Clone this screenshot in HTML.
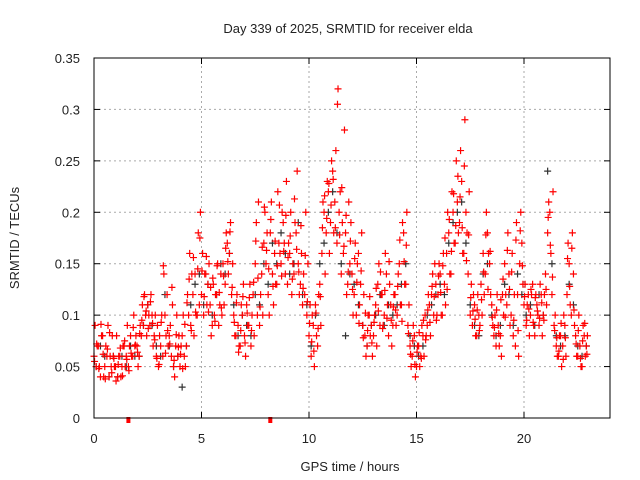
<!DOCTYPE html>
<html><head><meta charset="utf-8"><style>
html,body{margin:0;padding:0;background:#fff;width:640px;height:480px;overflow:hidden}
text{font-family:"Liberation Sans",sans-serif;font-size:13px;fill:#222}
</style></head><body>
<svg id="chart" width="640" height="480" xmlns="http://www.w3.org/2000/svg"></svg>
<script>
const xTicks=[0,5,10,15,20];
const yTicks=[0,0.05,0.1,0.15,0.2,0.25,0.3,0.35];
const yTickLabels=["0","0.05","0.1","0.15","0.2","0.25","0.3","0.35"];
const redA=[.06,.05,.07,.04,.08,.05,.06,.04,.05,.06,.05,.04,.06,.05,.07,.06,.05,.08,.06,.07,.07,.06,.08,.09,.10,.11,.09,.10,.08,.06,.05,.07,.06,.10,.12,.08,.06,.05,.07,.06,.05,.08,.06,.07,.10,.09,.12,.14,.10,.11,.12,.10,.14,.13,.11,.09,.10,.12,.09,.14,.15,.13,.17,.16,.12,.10,.08,.09,.07,.10,.08,.11,.09,.07,.12,.15,.10,.09,.14,.17,.15,.12,.18,.14,.16,.13,.17,.15,.19,.14,.13,.16,.12,.14,.18,.15,.13,.11,.12,.10,.08,.06,.09,.11,.07,.13,.16,.20,.18,.22,.19,.24,.21,.17,.20,.14,.16,.18,.13,.15,.14,.12,.10,.16,.13,.09,.08,.07,.10,.09,.08,.11,.13,.09,.12,.10,.14,.08,.11,.09,.12,.10,.15,.11,.18,.13,.09,.07,.06,.08,.05,.07,.06,.08,.10,.09,.11,.12,.10,.13,.12,.14,.10,.13,.16,.18,.14,.20,.17,.21,.19,.23,.16,.20,.14,.10,.09,.11,.08,.10,.13,.16,.14,.18,.15,.11,.08,.07,.09,.08,.12,.15,.11,.14,.10,.08,.07,.12,.15,.17,.11,.09,.12,.10,.13,.08,.11,.09,.12,.10,.14,.18,.20,.12,.09,.07,.06,.08,.07,.09,.12,.15,.10,.14,.08,.06,.07,.05,.08,.07];
const redB=[.09,.07,.05,.08,.04,.07,.09,.06,.08,.05,.08,.06,.04,.07,.05,.09,.07,.06,.10,.08,.05,.09,.11,.12,.08,.10,.12,.07,.10,.09,.08,.10,.14,.08,.07,.09,.11,.04,.10,.08,.07,.10,.05,.12,.16,.14,.08,.10,.18,.20,.16,.14,.11,.15,.08,.13,.12,.15,.11,.10,.11,.18,.14,.19,.15,.08,.12,.07,.11,.13,.06,.09,.13,.10,.08,.19,.21,.12,.10,.20,.18,.10,.21,.11,.13,.22,.16,.20,.17,.23,.17,.20,.15,.19,.24,.12,.16,.14,.20,.15,.11,.10,.05,.08,.12,.09,.21,.14,.23,.16,.25,.18,.26,.32,.22,.19,.28,.12,.21,.19,.10,.17,.15,.11,.18,.12,.06,.10,.08,.06,.10,.07,.15,.12,.09,.16,.11,.13,.07,.12,.09,.14,.11,.19,.13,.20,.11,.05,.09,.04,.07,.05,.09,.06,.08,.12,.08,.14,.15,.10,.15,.10,.16,.11,.20,.14,.22,.17,.25,.18,.26,.16,.29,.18,.22,.13,.12,.08,.12,.09,.10,.12,.20,.16,.12,.09,.10,.12,.07,.06,.10,.12,.18,.09,.16,.12,.19,.06,.20,.13,.13,.11,.08,.12,.09,.12,.10,.13,.08,.12,.11,.21,.16,.22,.10,.06,.08,.05,.10,.06,.17,.11,.18,.09,.06,.10,.05,.09,.06,.08];
const redC=[.055,.072,.048,.091,.062,.038,.067,.083,.044,.058,.036,.052,.068,.041,.075,.057,.046,.063,.088,.071,.064,.082,.095,.118,.104,.087,.113,.092,.076,.058,.052,.093,.148,.063,.085,.072,.127,.056,.081,.069,.062,.048,.091,.112,.135,.085,.156,.103,.145,.175,.143,.118,.157,.103,.127,.136,.094,.148,.122,.107,.138,.165,.152,.181,.127,.093,.112,.064,.085,.118,.073,.102,.117,.085,.132,.172,.136,.108,.166,.205,.163,.145,.193,.128,.172,.148,.207,.138,.162,.197,.156,.177,.135,.213,.164,.142,.187,.126,.158,.113,.092,.074,.065,.102,.087,.118,.185,.216,.194,.228,.207,.232,.185,.305,.178,.224,.167,.197,.142,.172,.125,.155,.132,.092,.143,.078,.102,.085,.118,.073,.093,.126,.104,.142,.087,.124,.097,.152,.095,.108,.105,.128,.173,.094,.152,.168,.082,.062,.075,.052,.064,.083,.058,.095,.076,.105,.093,.128,.118,.095,.138,.122,.148,.175,.125,.193,.162,.218,.187,.235,.215,.185,.245,.153,.178,.117,.104,.096,.105,.085,.115,.142,.178,.125,.162,.098,.088,.105,.082,.115,.135,.098,.163,.125,.142,.095,.173,.085,.182,.148,.118,.095,.106,.125,.093,.117,.104,.097,.112,.095,.125,.195,.168,.137,.085,.078,.065,.092,.057,.078,.155,.128,.165,.105,.072,.085,.058,.075,.092,.062];
const black=[.05,.07,.06,.04,.06,.04,.06,.05,.07,.06,.06,.09,.11,.09,.07,.06,.12,.07,.05,.06,.03,.07,.11,.13,.14,.11,.13,.10,.12,.15,.14,.16,.11,.08,.10,.09,.08,.12,.11,.15,.13,.17,.15,.18,.16,.14,.15,.19,.12,.11,.07,.10,.15,.17,.20,.22,.18,.15,.08,.14,.13,.11,.09,.07,.09,.10,.12,.09,.11,.10,.11,.13,.15,.08,.07,.06,.07,.10,.11,.12,.13,.12,.17,.19,.20,.21,.17,.11,.09,.08,.14,.15,.10,.08,.09,.13,.12,.09,.14,.12,.10,.11,.09,.12,.10,.24,.15,.08,.07,.08,.13,.11,.07,.06,.07];
const markerTimes=[1.6,8.2];
const X0=94,X1=610,Y0=418,Y1=58,XMAX=24,YMAX=0.35;
const sx=v=>X0+v*(X1-X0)/XMAX, sy=v=>Y0-v*(Y0-Y1)/YMAX;
const svg=document.getElementById('chart'),NS='http://www.w3.org/2000/svg';
function mk(t,a,p){const e=document.createElementNS(NS,t);for(const k in a)e.setAttribute(k,a[k]);(p||svg).appendChild(e);return e;}
const grid=mk('g',{});


xTicks.forEach(t=>{if(t>0)mk('line',{x1:sx(t),x2:sx(t),y1:Y0,y2:Y1,stroke:'#aaa','stroke-dasharray':'2,3'},grid);
 mk('line',{x1:sx(t),x2:sx(t),y1:Y0,y2:Y0-6,stroke:'#000'},grid);mk('line',{x1:sx(t),x2:sx(t),y1:Y1,y2:Y1+6,stroke:'#000'},grid);
 const l=mk('text',{x:sx(t),y:Y0+25,'text-anchor':'middle'});l.textContent=t;
 
 });
yTicks.forEach((t,i)=>{if(t>0&&t<YMAX)mk('line',{x1:X0,x2:X1,y1:sy(t),y2:sy(t),stroke:'#aaa','stroke-dasharray':'2,3'},grid);
 mk('line',{x1:X0,x2:X0+6,y1:sy(t),y2:sy(t),stroke:'#000'},grid);mk('line',{x1:X1,x2:X1-6,y1:sy(t),y2:sy(t),stroke:'#000'},grid);
 const l=mk('text',{x:X0-14,y:sy(t)+5,'text-anchor':'end'});l.textContent=yTickLabels[i];
 
 });
function plus(g,x,y,c){mk('path',{d:`M${x-3.5} ${y}H${x+3.5}M${x} ${y-3.5}V${y+3.5}`,stroke:c,'stroke-width':1.2,fill:'none'},g);}
const gb=mk('g',{});


black.forEach((v,i)=>plus(gb,sx(i*0.2+0.1),sy(v),'#333'));
const gr=mk('g',{});


redA.forEach((v,i)=>plus(gr,sx(i*0.1),sy(v),'#f00'));
redB.forEach((v,i)=>plus(gr,sx(i*0.1+0.05),sy(v),'#f00'));
redC.forEach((v,i)=>plus(gr,sx(i*0.1+0.025),sy(v),'#f00'));
markerTimes.forEach(t=>{const r=mk('rect',{x:sx(t)-2,y:Y0-1,width:4,height:6,fill:'#f00'});
 
 });
const fr=mk('rect',{x:X0,y:Y1,width:X1-X0,height:Y0-Y1,fill:'none',stroke:'#000'});


</script>
<svg style="position:absolute;left:0;top:0" width="640" height="480">
<text x="348" y="33" text-anchor="middle">Day 339 of 2025, SRMTID for receiver elda</text>
<text x="350" y="471" text-anchor="middle">GPS time / hours</text>
<text x="19" y="238" text-anchor="middle" transform="rotate(-90 19 238)">SRMTID / TECUs</text>
</svg>
</body></html>
